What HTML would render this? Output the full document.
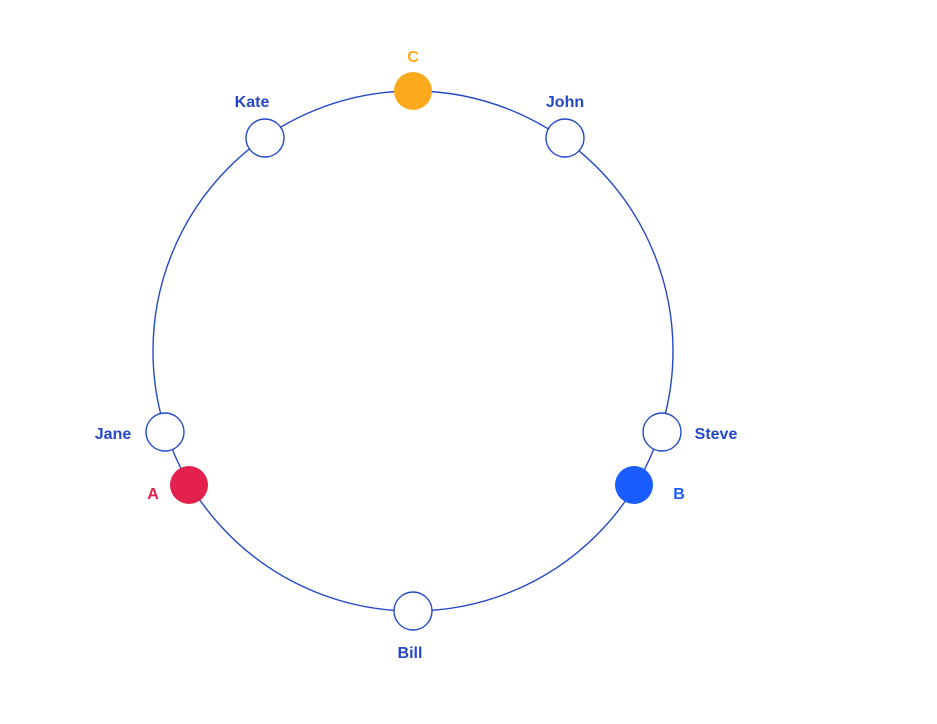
<!DOCTYPE html>
<html><head><meta charset="utf-8"><style>
html,body{margin:0;padding:0;background:#fff;}
svg{display:block;}
text{font-family:"Liberation Sans",sans-serif;font-weight:bold;font-size:16px;text-anchor:middle;dominant-baseline:middle;}
</style></head><body>
<svg width="937" height="724" viewBox="0 0 937 724" xmlns="http://www.w3.org/2000/svg">
<circle cx="413" cy="351" r="260" fill="none" stroke="#2448C8" stroke-width="1.4"/>
<g stroke="#2448C8" stroke-width="1.4" fill="#fff">
<circle cx="265" cy="138" r="19"/>
<circle cx="565" cy="138" r="19"/>
<circle cx="165" cy="432" r="19"/>
<circle cx="662" cy="432" r="19"/>
<circle cx="413" cy="611" r="19"/>
</g>
<circle cx="413" cy="91" r="19" fill="#FBAA1E"/>
<circle cx="189" cy="485" r="19" fill="#E4204C"/>
<circle cx="634" cy="485" r="19" fill="#1A5CFF"/>
<g fill="#2448C8">
<text x="252" y="103">Kate</text>
<text x="565" y="103">John</text>
<text x="113" y="435">Jane</text>
<text x="716" y="435">Steve</text>
<text x="410" y="654">Bill</text>
</g>
<text x="413" y="58" fill="#FBAA1E">C</text>
<text x="153" y="495" fill="#E4204C">A</text>
<text x="679" y="495" fill="#1A5CFF">B</text>
</svg>
</body></html>
